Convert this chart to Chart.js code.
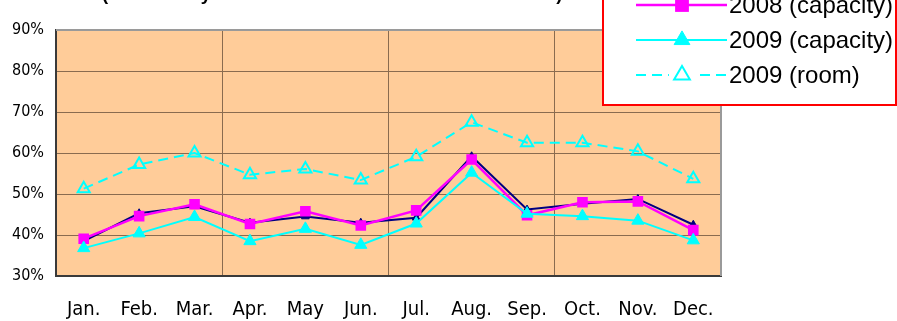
<!DOCTYPE html>
<html>
<head>
<meta charset="utf-8">
<script src="https://cdn.jsdelivr.net/npm/chart.js@4.4.1/dist/chart.umd.min.js"></script>
<style>
  html, body { margin: 0; padding: 0; background: #ffffff; }
  #wrap { width: 897px; height: 321px; position: relative; }
</style>
</head>
<body>
<div id="wrap"><canvas id="c" width="897" height="321"></canvas></div>
<script>
// Monthly occupancy rates (%)
const months = ['Jan.', 'Feb.', 'Mar.', 'Apr.', 'May', 'Jun.', 'Jul.', 'Aug.', 'Sep.', 'Oct.', 'Nov.', 'Dec.'];
const capacity2007 = [38.5, 45.3, 47.0, 43.0, 44.5, 43.0, 44.2, 59.2, 46.2, 47.6, 48.8, 42.5];
const capacity2008 = [39.1, 44.6, 47.5, 42.7, 45.8, 42.3, 46.0, 58.4, 44.8, 48.0, 48.2, 41.2];
const capacity2009 = [36.8, 40.4, 44.4, 38.5, 41.5, 37.6, 42.8, 55.2, 45.2, 44.6, 43.5, 38.7];
const room2009     = [51.3, 57.2, 60.0, 54.7, 56.1, 53.4, 59.1, 67.5, 62.5, 62.5, 60.4, 53.7];
const yTickValues  = [30, 40, 50, 60, 70, 80, 90];
const seriesNames  = ['2007 (capacity)', '2008 (capacity)', '2009 (capacity)', '2009 (room)'];
const titleText    = '(Seasonality Trends in Hotel Room Utilization Rates)';

const NARROW = "'Liberation Sans Narrow', 'Arial Narrow', 'DejaVu Sans Condensed', sans-serif";
const SANS = "'Liberation Sans', Arial, sans-serif";
const GRID = '#8a6b4f';

// Plot background, frame, heading and boxed legend
const decor = {
  id: 'decor',
  beforeDraw(chart) {
    const { ctx, chartArea: a } = chart;
    ctx.save();
    ctx.fillStyle = '#FFCC99';
    ctx.fillRect(a.left, a.top, a.right - a.left, a.bottom - a.top);
    ctx.restore();
  },
  beforeDatasetsDraw(chart) {
    const { ctx, chartArea: a } = chart;
    ctx.save();
    ctx.lineWidth = 2;
    ctx.strokeStyle = '#9a9a9a';
    ctx.beginPath();
    ctx.moveTo(a.left, a.top);
    ctx.lineTo(a.right, a.top);
    ctx.lineTo(a.right, a.bottom);
    ctx.stroke();
    ctx.restore();
  },
  afterDraw(chart) {
    const { ctx } = chart;
    ctx.save();
    // heading (sits mostly above the visible area)
    ctx.fillStyle = '#000';
    ctx.font = 'bold 18.5px ' + SANS;
    ctx.textBaseline = 'alphabetic';
    ctx.textAlign = 'left';
    ctx.fillText(titleText, 102, 0);

    // legend box
    const box = { left: 603, right: 896, top: -48, bottom: 105 };
    ctx.fillStyle = '#ffffff';
    ctx.fillRect(box.left, box.top, box.right - box.left, box.bottom - box.top);
    ctx.lineWidth = 2;
    ctx.strokeStyle = '#ff0000';
    ctx.strokeRect(box.left, box.top, box.right - box.left, box.bottom - box.top);

    const rowGap = 35, firstRow = -30;
    chart.data.datasets.forEach((ds, i) => {
      const y = firstRow + i * rowGap;
      const r = ds.pointRadius * 1.3;
      ctx.save();
      ctx.strokeStyle = ds.borderColor;
      ctx.lineWidth = ds.borderWidth;
      ctx.setLineDash(ds.borderDash || []);
      ctx.beginPath();
      ctx.moveTo(636, y);
      ctx.lineTo(727, y);
      ctx.stroke();
      ctx.restore();
      ctx.save();
      if (ds.borderDash) {
        // clear the line behind the hollow marker
        ctx.fillStyle = '#ffffff';
        ctx.fillRect(682 - r - 4, y - 3, 2 * r + 8, 6);
      }
      ctx.fillStyle = ds.pointBackgroundColor;
      ctx.strokeStyle = ds.pointBorderColor;
      ctx.lineWidth = ds.pointBorderWidth;
      Chart.helpers.drawPoint(ctx, { pointStyle: ds.pointStyle, rotation: 0, radius: r, borderWidth: ds.pointBorderWidth }, 682, y);
      ctx.restore();
      ctx.fillStyle = '#000';
      ctx.font = '24px ' + SANS;
      ctx.textBaseline = 'middle';
      ctx.textAlign = 'left';
      ctx.fillText(seriesNames[i], 729, y + 1);
    });
    ctx.restore();
  }
};

new Chart(document.getElementById('c'), {
  type: 'line',
  data: {
    labels: months,
    datasets: [
      {
        label: seriesNames[0], data: capacity2007, order: 4,
        borderColor: '#000080', borderWidth: 2,
        pointStyle: 'triangle', pointRadius: 4.5,
        pointBackgroundColor: '#000080', pointBorderColor: '#000080', pointBorderWidth: 1
      },
      {
        label: seriesNames[1], data: capacity2008, order: 3,
        borderColor: '#FF00FF', borderWidth: 2.5,
        pointStyle: 'rect', pointRadius: 7.5,
        pointBackgroundColor: '#FF00FF', pointBorderColor: '#FF00FF', pointBorderWidth: 0
      },
      {
        label: seriesNames[2], data: capacity2009, order: 2,
        borderColor: '#00FFFF', borderWidth: 2,
        pointStyle: 'triangle', pointRadius: 7,
        pointBackgroundColor: '#00FFFF', pointBorderColor: '#00FFFF', pointBorderWidth: 1
      },
      {
        label: seriesNames[3], data: room2009, order: 1,
        borderColor: '#00FFFF', borderWidth: 2, borderDash: [10, 6],
        pointStyle: 'triangle', pointRadius: 7,
        pointBackgroundColor: 'rgba(0,0,0,0)', pointBorderColor: '#00FFFF', pointBorderWidth: 2
      }
    ]
  },
  options: {
    responsive: false,
    animation: false,
    devicePixelRatio: 1,
    layout: { padding: { top: 30, right: 176, left: 0, bottom: 0 } },
    plugins: { legend: { display: false }, tooltip: { enabled: false }, title: { display: false } },
    elements: { line: { tension: 0 } },
    scales: {
      x: {
        offset: true,
        grid: {
          offset: true,
          drawTicks: false,
          color: (c) => (c.index > 0 && c.index % 3 === 0 && c.index < 12) ? GRID : 'rgba(0,0,0,0)',
          lineWidth: 1
        },
        border: { display: true, color: '#3a3a3a', width: 2 },
        ticks: { color: '#000', font: { family: NARROW, size: 20 }, padding: 22, maxRotation: 0, autoSkip: false },
        afterFit: (s) => { s.height = 45; }
      },
      y: {
        min: 30, max: 90,
        afterBuildTicks: (s) => { s.ticks = yTickValues.map(v => ({ value: v })); },
        grid: {
          drawTicks: false,
          color: (c) => (c.tick && (c.tick.value === 30 || c.tick.value === 90)) ? 'rgba(0,0,0,0)' : GRID,
          lineWidth: 1
        },
        border: { display: true, color: '#3a3a3a', width: 2 },
        ticks: { color: '#000', font: { family: NARROW, size: 16 }, padding: 12, callback: (v) => v + '%' },
        afterFit: (s) => { s.width = 56; }
      }
    }
  },
  plugins: [decor]
});
</script>
</body>
</html>
